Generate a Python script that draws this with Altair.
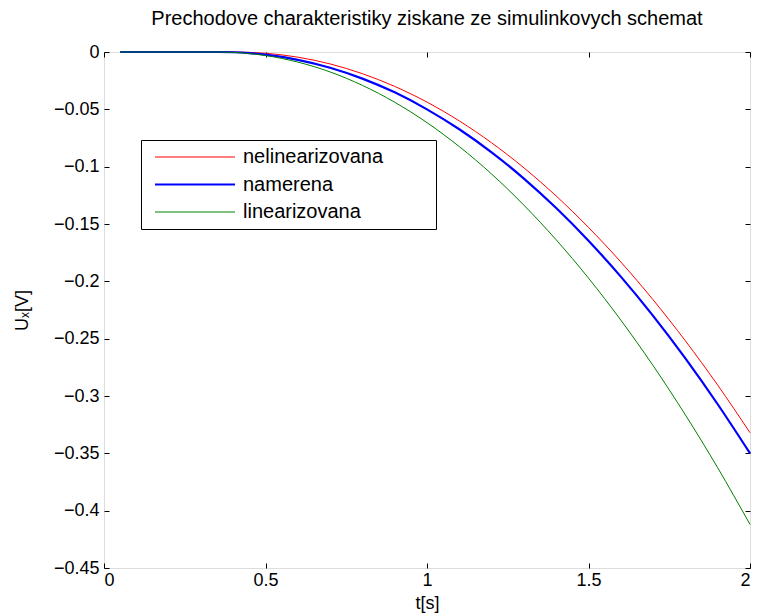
import altair as alt
import pandas as pd

# time axis [s]
t = [0.05, 0.3, 0.35, 0.4, 0.45, 0.5, 0.6, 0.7, 0.8, 0.9, 1.0, 1.1, 1.2, 1.3,
     1.4, 1.5, 1.6, 1.7, 1.8, 1.9, 2.0]
nelinearizovana = [0, 0, 0, 0, -0.0003, -0.0011, -0.0045, -0.0104, -0.0189, -0.030,
                   -0.0437, -0.0601, -0.0792, -0.101, -0.1256, -0.153, -0.1831,
                   -0.2161, -0.2519, -0.2905, -0.332]
namerena = [0, 0, 0, -0.0002, -0.001, -0.0023, -0.0068, -0.0137, -0.0232, -0.0352,
            -0.050, -0.0674, -0.0875, -0.1104, -0.1361, -0.1646, -0.1959,
            -0.2301, -0.2672, -0.3072, -0.350]
linearizovana = [0, 0, 0, -0.0003, -0.0014, -0.0031, -0.0088, -0.0174, -0.0291, -0.0438,
                 -0.0616, -0.0825, -0.1064, -0.1336, -0.1638, -0.1972, -0.2338,
                 -0.2735, -0.3165, -0.3626, -0.412]

series_names = ["nelinearizovana", "namerena", "linearizovana"]
series_colors = ["#ff0000", "#0000ff", "#008000"]
series_widths = [1, 2.2, 1]
x_ticks = [0, 0.5, 1, 1.5, 2]
y_ticks = [0, -0.05, -0.1, -0.15, -0.2, -0.25, -0.3, -0.35, -0.4, -0.45]

rows = []
for name, vals in zip(series_names, [nelinearizovana, namerena, linearizovana]):
    for ti, v in zip(t, vals):
        rows.append({"t": ti, "v": v, "series": name})
df = pd.DataFrame(rows)

W, H = 646, 516
FONT = "Liberation Sans"
xs = alt.Scale(domain=[0, 2], nice=False, zero=False)
ys = alt.Scale(domain=[-0.45, 0], nice=False, zero=False)

# blank (non-whitespace) filler widens the legend box like MATLAB's
legend_spec = dict(
    orient="none", legendX=37, legendY=88, title=None,
    symbolType="M-0.75,0L19.25,0", symbolSize=64, symbolStrokeWidth=1,
    labelFont=FONT, labelFontSize=20, labelColor="black",
    labelExpr="datum.label + '\u2800\u2800\u2800'",
    strokeColor="black", fillColor="white", padding=7,
    labelLimit=0, rowPadding=7.5, labelOffset=75,
)

base = alt.Chart(df)

lines = base.mark_line(interpolate="monotone").encode(
    x=alt.X("t:Q", scale=xs, axis=alt.Axis(
        title="t[s]", values=x_ticks, format="~g", ticks=False, domain=False, grid=False,
        labelFont=FONT, labelFontSize=18, labelColor="black", labelPadding=3,
        titleFont=FONT, titleFontSize=18, titleFontWeight="normal", titleColor="black",
        titlePadding=5)),
    y=alt.Y("v:Q", scale=ys, axis=alt.Axis(
        title="Uₓ[V]", values=y_ticks, format="~g", ticks=False, domain=False, grid=False,
        labelFont=FONT, labelFontSize=18, labelColor="black", labelPadding=5,
        titleFont=FONT, titleFontSize=18, titleFontWeight="normal", titleColor="black",
        titlePadding=22)),
    color=alt.Color("series:N", scale=alt.Scale(domain=series_names, range=series_colors),
                    legend=alt.Legend(**legend_spec)),
    strokeWidth=alt.StrokeWidth("series:N",
                                scale=alt.Scale(type="ordinal", domain=series_names, range=series_widths),
                                legend=alt.Legend(**legend_spec)),
)

def tick_layer(xorient, yorient):
    return base.mark_line(opacity=0).encode(
        x=alt.X("t:Q", scale=xs, axis=alt.Axis(
            orient=xorient, offset=-H, labels=False, title=None, domain=False, grid=False,
            values=x_ticks, tickSize=5, tickColor="black")),
        y=alt.Y("v:Q", scale=ys, axis=alt.Axis(
            orient=yorient, offset=-W, labels=False, title=None, domain=False, grid=False,
            values=y_ticks, tickSize=5, tickColor="black")),
        detail="series:N",
    )

chart = alt.layer(lines, tick_layer("top", "right"), tick_layer("bottom", "left")).resolve_axis(
    x="independent", y="independent"
).properties(
    width=W, height=H,
    title=alt.TitleParams("Prechodove charakteristiky ziskane ze simulinkovych schemat",
                          font=FONT, fontSize=20, fontWeight="normal", color="black",
                          anchor="middle", offset=14),
    autosize=alt.AutoSizeParams(type="none"),
    padding={"left": 104, "top": 52, "right": 7, "bottom": 48},
).configure_view(stroke="black", strokeWidth=1).configure(background="white")

chart.save("out.html", embed_options={"renderer": "svg", "actions": False})
